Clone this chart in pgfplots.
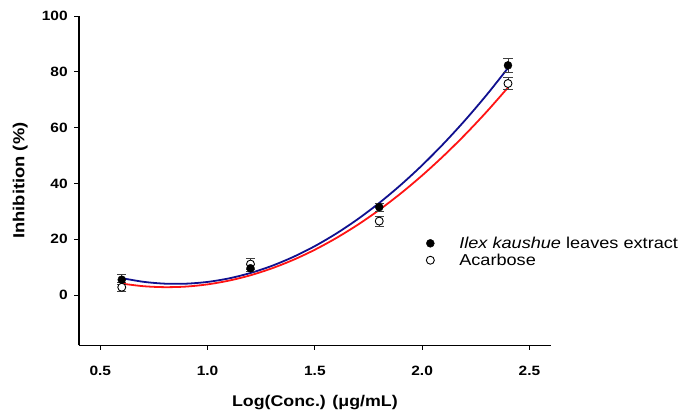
\documentclass[border=0pt]{standalone}
\usepackage{pgfplots}
\pgfplotsset{compat=1.18}
\usepackage{fontspec}
\setmainfont[FakeStretch=1.15]{Liberation Sans}
\definecolor{fitblue}{HTML}{10108F}
\definecolor{fitred}{HTML}{FF1414}
\definecolor{errgray}{HTML}{404040}
\begin{document}
\begin{tikzpicture}
\begin{axis}[
  scale only axis, width=473pt, height=330pt,
  xmin=0.4, xmax=2.6, ymin=-18, ymax=100,
  axis x line*=bottom, axis y line*=left,
  axis line style={-, line width=1.4pt},
  xtick={0.5,1.0,1.5,2.0,2.5}, ytick={0,20,40,60,80,100},
  tick align=outside, major tick length=4.7pt,
  tick style={line width=0.9pt, black},
  x tick label style={/pgf/number format/fixed, /pgf/number format/fixed zerofill,
    /pgf/number format/precision=1},
  /pgf/number format/assume math mode=true,
  tick label style={font=\fontsize{13.5}{15}\selectfont\bfseries},
  xticklabel style={yshift=-13pt},
  yticklabel style={xshift=-3pt},
  xlabel={Log(Conc.) (μg/mL)},
  ylabel={Inhibition (\%)},
  every axis x label/.style={at={(axis description cs:0.5,-0.175)}, anchor=center,
    font=\fontsize{15.5}{17}\selectfont\bfseries},
  every axis y label/.style={at={(axis description cs:-0.124,0.5)}, anchor=center, rotate=90,
    font=\fontsize{16}{18}\selectfont\bfseries},
  legend style={at={(rel axis cs:0.7294,0.342)}, anchor=north west, draw=none, fill=none,
    font=\fontsize{15.8}{18}\selectfont, row sep=0pt,
    /tikz/every odd column/.append style={column sep=23pt}},
  legend cell align=left,
  reverse legend,
]
% fitted curves
\addplot[fitblue, line width=1.8pt, smooth, forget plot] coordinates {
  (0.6,6.07) (0.7,4.76) (0.8,4.09) (0.9,4.08) (1.0,4.71) (1.1,5.98) (1.2,7.91)
  (1.3,10.47) (1.4,13.69) (1.5,17.54) (1.6,22.05) (1.7,27.20) (1.8,33.00)
  (1.9,39.44) (2.0,46.52) (2.1,54.26) (2.2,62.64) (2.3,71.66) (2.4,81.34)};
\addplot[fitred, line width=1.8pt, smooth, forget plot] coordinates {
  (0.6,4.10) (0.7,3.18) (0.8,2.83) (0.9,3.04) (1.0,3.83) (1.1,5.18) (1.2,7.09)
  (1.3,9.58) (1.4,12.63) (1.5,16.25) (1.6,20.44) (1.7,25.19) (1.8,30.51)
  (1.9,36.40) (2.0,42.86) (2.1,49.88) (2.2,57.47) (2.3,65.63) (2.4,74.36)};
% Acarbose
\addplot[only marks, mark=*, mark size=4pt, mark options={fill=white, draw=black, line width=0.9pt},
  error bars/.cd, y dir=both, y explicit,
  error bar style={errgray, line width=0.9pt},
  error mark options={rotate=90, mark size=4.7pt, line width=0.9pt, errgray}]
  coordinates {(0.6,2.8) +- (0,1.6) (1.2,11.1) +- (0,2.0) (1.8,26.5) +- (0,1.8) (2.4,75.8) +- (0,2.2)};
\addlegendentry{Acarbose}
% extract
\addplot[only marks, mark=*, mark size=4pt, mark options={fill=black, draw=black},
  error bars/.cd, y dir=both, y explicit,
  error bar style={errgray, line width=0.9pt},
  error mark options={rotate=90, mark size=4.7pt, line width=0.9pt, errgray}]
  coordinates {(0.6,5.5) +- (0,1.8) (1.2,9.6) +- (0,1.2) (1.8,31.5) +- (0,1.5) (2.4,82.3) +- (0,2.5)};
\addlegendentry{{\itshape Ilex kaushue} leaves extract}
\end{axis}
\path (current axis.south west) ++(-79pt,-66pt);
\path (current axis.north east) ++(131pt,16pt);
\end{tikzpicture}
\end{document}
